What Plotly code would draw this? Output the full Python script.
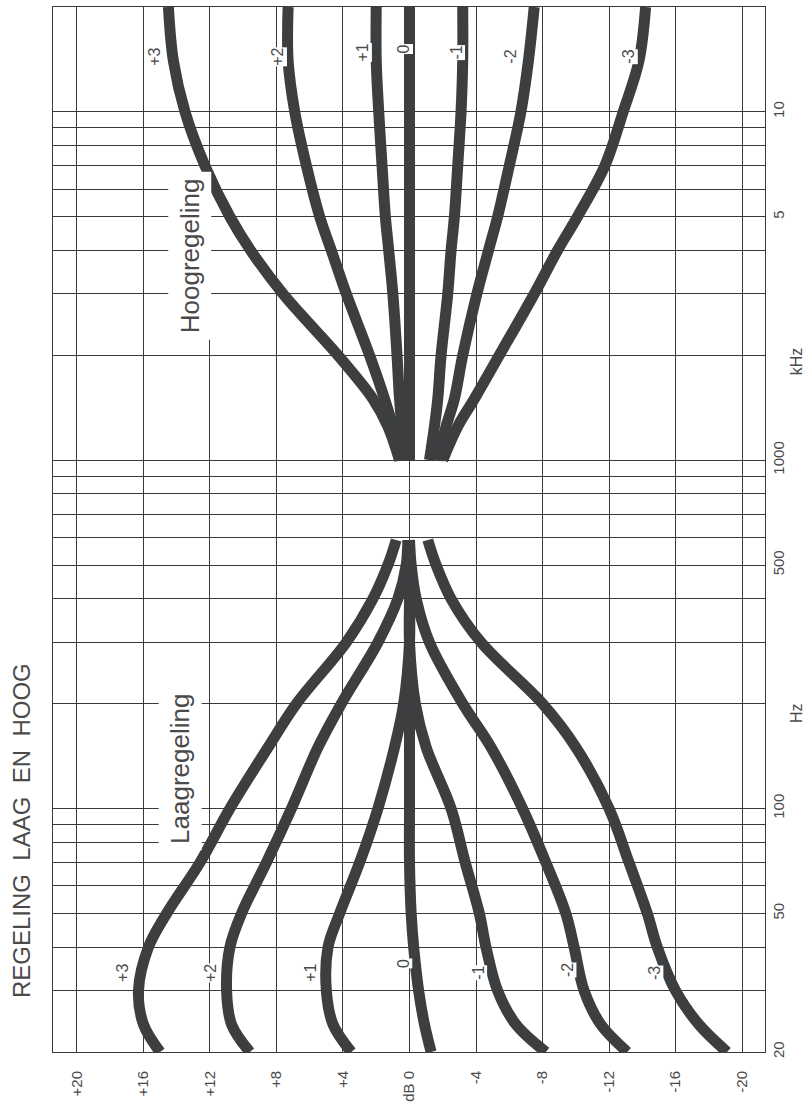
import math
import plotly.graph_objects as go

# ---- bass control family (Laagregeling), dB vs frequency in Hz ----
bass_freq = [20, 24, 30, 40, 50, 70, 100, 150, 200, 300, 400, 500, 590]
bass_p3 = [15.0, 16.0, 16.3, 15.7, 14.6, 12.6, 10.8, 8.5, 6.8, 3.8, 2.2, 1.3, 0.8]
bass_p2 = [9.6, 10.7, 11.0, 10.8, 10.1, 8.6, 7.1, 5.5, 4.1, 1.9, 0.7, 0.2, 0.1]
bass_p1 = [3.5, 4.6, 5.0, 4.9, 4.2, 3.0, 1.9, 0.9, 0.35, 0.0, 0.0, 0.0, 0.0]
bass_0 = [-1.3, -0.9, -0.55, -0.25, -0.1, 0.0, 0.0, 0.0, 0.0, 0.0, 0.0, 0.0, 0.0]
bass_m1 = [-8.2, -6.4, -5.3, -4.6, -4.2, -3.35, -2.5, -1.0, -0.35, 0.0, 0.0, 0.0, 0.0]
bass_m2 = [-13.1, -11.5, -10.5, -9.9, -9.4, -8.2, -6.8, -4.9, -3.2, -1.2, -0.4, -0.1, 0.0]
bass_m3 = [-19.1, -17.4, -16.0, -14.9, -14.3, -13.2, -12.0, -10.0, -8.0, -4.3, -2.5, -1.6, -1.1]

# ---- treble control family (Hoogregeling) ----
treble_freq = [1000, 1250, 1500, 2000, 3000, 4000, 5000, 7000, 10000, 14000, 20000]
treble_p3 = [0.6, 1.3, 2.2, 4.3, 7.6, 9.55, 10.8, 12.3, 13.5, 14.2, 14.5]
treble_p2 = [0.5, 1.0, 1.5, 2.4, 3.8, 4.7, 5.4, 6.2, 6.9, 7.3, 7.3]
treble_p1 = [0.2, 0.45, 0.6, 0.75, 1.0, 1.25, 1.45, 1.65, 1.85, 2.0, 2.0]
treble_0 = [0.0, 0.0, 0.0, 0.0, 0.0, 0.0, 0.0, 0.0, 0.0, 0.0, 0.0]
treble_m1 = [-1.2, -1.5, -1.7, -1.9, -2.3, -2.5, -2.7, -2.9, -3.1, -3.2, -3.2]
treble_m2 = [-1.7, -2.2, -2.7, -3.2, -4.05, -4.75, -5.3, -6.0, -6.7, -7.15, -7.5]
treble_m3 = [-2.0, -2.9, -3.9, -5.4, -7.5, -8.9, -10.1, -11.75, -12.85, -13.8, -14.2]

curve_names = ["+3", "+2", "+1", "0", "-1", "-2", "-3"]

# curve label anchors (dB, Hz)
bass_label_db = [17.3, 12.0, 6.0, 0.4, -4.1, -9.5, -14.7]
bass_label_hz = [33.7, 33.7, 33.7, 36.0, 33.7, 34.5, 33.7]
treble_label_db = [15.3, 7.9, 2.8, 0.33, -2.8, -6.1, -13.2]
treble_label_hz = [14400, 14400, 14800, 15100, 14800, 14400, 14400]

# ---- axes ----
db_ticks = [20, 16, 12, 8, 4, 0, -4, -8, -12, -16, -20]
db_labels = ["+20", "+16", "+12", "+8", "+4", "dB 0", "-4", "-8", "-12", "-16", "-20"]
freq_grid = [20, 30, 40, 50, 60, 70, 80, 90, 100, 200, 300, 400, 500, 600, 700, 800, 900,
             1000, 2000, 3000, 4000, 5000, 6000, 7000, 8000, 9000, 10000, 20000]
freq_labels = {20: "20", 50: "50", 100: "100", 500: "500", 1000: "1000",
               5000: "5", 10000: "10", 20000: "20"}

INK = "#3c3e40"
GRID = "#3a3a3a"
TEXT = "#4a4a4a"
FONT = "Liberation Sans"

fig = go.Figure()

bass_sets = [bass_p3, bass_p2, bass_p1, bass_0, bass_m1, bass_m2, bass_m3]
treble_sets = [treble_p3, treble_p2, treble_p1, treble_0, treble_m1, treble_m2, treble_m3]

for name, vals in zip(curve_names, bass_sets):
    fig.add_trace(go.Scatter(x=vals, y=bass_freq, mode="lines", name=name,
                             line=dict(color=INK, width=11, shape="spline", smoothing=1.0),
                             showlegend=False, hoverinfo="skip"))
for name, vals in zip(curve_names, treble_sets):
    fig.add_trace(go.Scatter(x=vals, y=treble_freq, mode="lines", name=name,
                             line=dict(color=INK, width=11, shape="spline", smoothing=1.0),
                             showlegend=False, hoverinfo="skip"))

annotations = []
for name, xd, yf in zip(curve_names, bass_label_db, bass_label_hz):
    annotations.append(dict(x=xd, y=math.log10(yf), xref="x", yref="y", text=name,
                            showarrow=False, textangle=-90, bgcolor="white", borderpad=0,
                            font=dict(family=FONT, size=16, color=TEXT)))
for name, xd, yf in zip(curve_names, treble_label_db, treble_label_hz):
    annotations.append(dict(x=xd, y=math.log10(yf), xref="x", yref="y", text=name,
                            showarrow=False, textangle=-90, bgcolor="white", borderpad=0,
                            font=dict(family=FONT, size=16, color=TEXT)))

annotations += [
    dict(x=13.8, y=math.log10(130), xref="x", yref="y", text="Laagregeling",
         showarrow=False, textangle=-90, bgcolor="white", borderpad=6,
         font=dict(family=FONT, size=26, color=TEXT)),
    dict(x=13.2, y=math.log10(3850), xref="x", yref="y", text="Hoogregeling",
         showarrow=False, textangle=-90, bgcolor="white", borderpad=6,
         font=dict(family=FONT, size=26, color=TEXT)),
    dict(x=-0.0435, y=0.2115, xref="paper", yref="paper", xanchor="center", yanchor="middle",
         text="REGELING\u00a0\u00a0LAAG\u00a0\u00a0EN\u00a0\u00a0HOOG",
         showarrow=False, textangle=-90,
         font=dict(family=FONT, size=24, color=TEXT)),
    dict(x=1.0435, y=0.3244, xref="paper", yref="paper", xanchor="center", yanchor="middle",
         text="Hz", showarrow=False, textangle=-90,
         font=dict(family=FONT, size=16, color=TEXT)),
    dict(x=1.0435, y=0.661, xref="paper", yref="paper", xanchor="center", yanchor="middle",
         text="kHz", showarrow=False, textangle=-90,
         font=dict(family=FONT, size=16, color=TEXT)),
]

fig.update_layout(
    width=808, height=1115,
    margin=dict(l=53, r=43, t=7, b=63),
    paper_bgcolor="white", plot_bgcolor="white",
    showlegend=False,
    annotations=annotations,
    xaxis=dict(range=[21.44, -21.38], tickmode="array", tickvals=db_ticks, ticktext=db_labels,
               tickangle=-90, showgrid=True, gridcolor=GRID, gridwidth=1, zeroline=False,
               showline=True, mirror=True, linecolor=GRID, linewidth=1, ticks="",
               ticklabelstandoff=12, tickfont=dict(family=FONT, size=15, color=TEXT)),
    yaxis=dict(type="log", range=[math.log10(20), math.log10(20000)], side="right",
               tickmode="array", tickvals=freq_grid,
               ticktext=[freq_labels.get(f, "") for f in freq_grid],
               tickangle=-90, showgrid=True, gridcolor=GRID, gridwidth=1, zeroline=False,
               showline=True, mirror=True, linecolor=GRID, linewidth=1, ticks="",
               ticklabelstandoff=0, tickfont=dict(family=FONT, size=15, color=TEXT)),
)

fig.write_html("out.html")
